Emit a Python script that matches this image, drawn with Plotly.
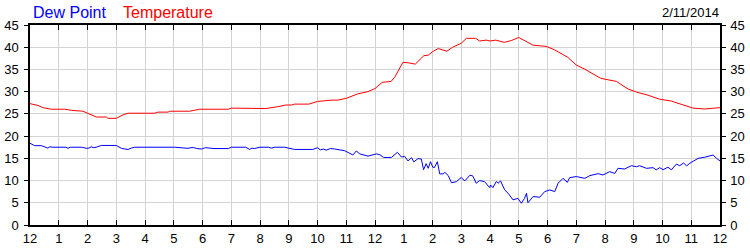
import plotly.graph_objects as go

# Hours since midnight and values
temp_hours = [0, 0.28, 0.45, 0.74, 1.21, 1.44, 1.84, 2.02, 2.31, 2.66, 2.71, 3.0, 3.24, 3.41, 4.34,
              4.45, 4.8, 4.86, 5.55, 5.9, 6.9, 7.0, 8.0, 8.2, 8.6, 8.9, 9.1, 9.2, 9.7, 10.0, 10.5,
              10.7, 11.0, 11.4, 11.75, 12.0, 12.25, 12.56, 12.7, 12.85, 12.97, 13.15, 13.4, 13.7,
              13.85, 14.0, 14.2, 14.5, 14.7, 15.0, 15.18, 15.5, 15.64, 15.87, 16.0, 16.2, 16.5,
              16.74, 17.0, 17.5, 17.95, 18.25, 18.7, 19.0, 19.3, 19.85, 20.0, 20.4, 20.8, 21.1,
              21.5, 21.9, 22.3, 22.77, 23.06, 23.46, 23.7, 24.0]
temperature = [27.3, 26.9, 26.4, 26.05, 26.05, 25.8, 25.6, 25.15, 24.3, 24.3, 24.0, 24.0, 24.8, 25.15,
               25.15, 25.4, 25.4, 25.6, 25.6, 26.05, 26.05, 26.3, 26.3, 26.2, 26.6, 27.0, 27.0, 27.2,
               27.2, 27.8, 28.1, 28.1, 28.5, 29.5, 30.0, 30.7, 32.1, 32.3, 33.4, 35.3, 36.6, 36.5,
               36.2, 38.1, 38.2, 39.0, 39.7, 39.1, 40.0, 40.9, 42.0, 42.0, 41.4, 41.6, 41.4, 41.6,
               41.1, 41.5, 42.2, 40.45, 40.2, 39.4, 37.75, 36.0, 35.05, 33.0, 32.8, 32.3, 30.6,
               29.9, 29.2, 28.3, 27.9, 26.9, 26.3, 26.1, 26.3, 26.4]

dew_hours = [0, 0.16, 0.4, 0.55, 0.62, 0.69, 0.8, 1.25, 1.32, 1.4, 1.8, 1.96, 2.05, 2.13, 2.22, 2.3,
             2.48, 3.0, 3.18, 3.3, 3.41, 3.52, 3.64, 5.03, 5.3, 5.5, 5.6, 5.7, 5.8, 5.96, 6.1, 6.19,
             6.4, 6.9, 7.0, 7.5, 7.58, 7.64, 7.72, 7.8, 8.0, 8.3, 8.4, 8.5, 8.86, 9.1, 9.2, 9.84,
             9.95, 10.0, 10.1, 10.2, 10.3, 10.45, 10.6, 10.75, 10.95, 11.23, 11.35, 11.47, 11.76,
             12.05, 12.17, 12.3, 12.57, 12.78, 12.92, 13.03, 13.15, 13.27, 13.35, 13.5, 13.61,
             13.69, 13.78, 13.85, 13.93, 14.01, 14.07, 14.17, 14.25, 14.37, 14.43, 14.55, 14.66,
             14.83, 15.0, 15.12, 15.3, 15.4, 15.52, 15.64, 15.81, 15.99, 16.02, 16.1, 16.22, 16.28,
             16.37, 16.51, 16.63, 16.8, 16.97, 17.09, 17.2, 17.27, 17.32, 17.5, 17.73, 17.9, 18.08,
             18.25, 18.37, 18.54, 18.69, 18.77, 19.0, 19.3, 19.47, 19.76, 19.93, 20.16, 20.34,
             20.45, 20.68, 20.92, 21.09, 21.2, 21.44, 21.67, 21.78, 21.9, 22.02, 22.19, 22.31,
             22.48, 22.6, 22.73, 22.84, 22.95, 23.06, 23.24, 23.47, 23.76, 23.88, 24.0]
dew_point = [18.4, 17.85, 17.85, 17.5, 17.3, 17.6, 17.5, 17.5, 17.25, 17.5, 17.5, 17.25, 17.3, 17.6,
             17.4, 17.5, 17.9, 17.9, 17.25, 17.1, 17.0, 17.3, 17.5, 17.5, 17.4, 17.25, 17.4, 17.4,
             17.2, 17.1, 17.4, 17.35, 17.2, 17.2, 17.5, 17.5, 17.2, 17.0, 17.3, 17.2, 17.5, 17.5,
             17.3, 17.5, 17.5, 17.25, 17.0, 17.0, 17.2, 17.4, 16.9, 17.1, 16.85, 17.2, 17.1, 16.9,
             16.7, 15.75, 16.65, 16.0, 15.5, 16.0, 15.8, 15.2, 15.2, 16.35, 15.3, 15.45, 14.4,
             15.15, 14.2, 14.95, 14.85, 12.45, 13.8, 12.75, 14.25, 13.0, 12.95, 14.25, 11.5, 11.5,
             11.85, 11.1, 9.5, 9.75, 10.7, 9.9, 11.2, 11.05, 9.4, 10.0, 9.75, 8.4, 9.0, 8.4, 9.8,
             9.4, 9.9, 7.9, 7.15, 5.65, 6.0, 4.9, 6.0, 7.15, 5.0, 6.4, 6.25, 7.5, 7.9, 7.5, 9.4,
             10.5, 9.6, 10.65, 10.9, 10.5, 11.1, 11.55, 11.25, 12.0, 11.6, 12.75, 12.6, 13.35,
             13.1, 13.35, 12.75, 12.9, 12.4, 12.9, 12.45, 13.0, 12.4, 13.7, 13.35, 13.95, 13.3,
             13.9, 14.25, 15.0, 15.25, 15.75, 15.0, 14.4]

hour_ticks = list(range(25))
hour_labels = ["12"] + [str(i) for i in range(1, 12)] + ["12"] + [str(i) for i in range(1, 12)] + ["12"]
y_ticks = list(range(0, 46, 5))
date_label = "2/11/2014"

FONT = "Liberation Sans, Arial, sans-serif"
GRID = "#d3d3d3"

fig = go.Figure()
fig.add_trace(go.Scatter(x=temp_hours, y=temperature, mode="lines",
                         line=dict(color="#ff0000", width=1), name="Temperature"))
fig.add_trace(go.Scatter(x=dew_hours, y=dew_point, mode="lines",
                         line=dict(color="#0000ff", width=1), name="Dew Point"))
# invisible trace to anchor right-hand axis
fig.add_trace(go.Scatter(x=[0], y=[0], yaxis="y2", mode="markers",
                         marker=dict(opacity=0), showlegend=False, hoverinfo="skip"))

fig.update_layout(
    width=750, height=250,
    margin=dict(l=30, r=30, t=25, b=25, autoexpand=False),
    paper_bgcolor="white", plot_bgcolor="white",
    showlegend=False,
    font=dict(family=FONT, size=12, color="black"),
    xaxis=dict(range=[0, 24], tickvals=hour_ticks, ticktext=hour_labels,
               ticks="inside", ticklen=5, tickcolor="black", tickwidth=1,
               showline=True, linecolor="black", linewidth=1.5, mirror="ticks",
               showgrid=True, gridcolor=GRID, gridwidth=1, zeroline=False,
               ticklabelstandoff=1, automargin=False,
               tickfont=dict(family=FONT, size=13, color="black")),
    yaxis=dict(range=[0, 45], tickvals=y_ticks,
               ticks="outside", ticklen=4, tickcolor="black",
               showline=True, linecolor="black", linewidth=1.5, mirror=True,
               showgrid=True, gridcolor=GRID, gridwidth=1, zeroline=False,
               ticklabelstandoff=3, automargin=False,
               tickfont=dict(family=FONT, size=13, color="black")),
    yaxis2=dict(range=[0, 45], tickvals=y_ticks, overlaying="y", side="right",
                ticks="outside", ticklen=4, tickcolor="black",
                showline=True, linecolor="black", linewidth=1.5,
                showgrid=False, zeroline=False,
                ticklabelstandoff=2, automargin=False,
                tickfont=dict(family=FONT, size=13, color="black")),
)

W, H = 690.0, 200.0
def px_x(px):
    return (px - 30) / W
def px_y(py):
    return (225 - py) / H

fig.add_annotation(text="Dew Point", x=px_x(31), y=px_y(12), xref="paper", yref="paper",
                   xanchor="left", yanchor="middle", showarrow=False,
                   font=dict(family=FONT, size=16, color="#0000ff"))
fig.add_annotation(text="Temperature", x=px_x(121), y=px_y(12), xref="paper", yref="paper",
                   xanchor="left", yanchor="middle", showarrow=False,
                   font=dict(family=FONT, size=16, color="#ff0000"))
fig.add_annotation(text=date_label, x=px_x(721), y=px_y(13), xref="paper", yref="paper",
                   xanchor="right", yanchor="middle", showarrow=False,
                   font=dict(family=FONT, size=13, color="black"))

fig.write_html("out.html")
